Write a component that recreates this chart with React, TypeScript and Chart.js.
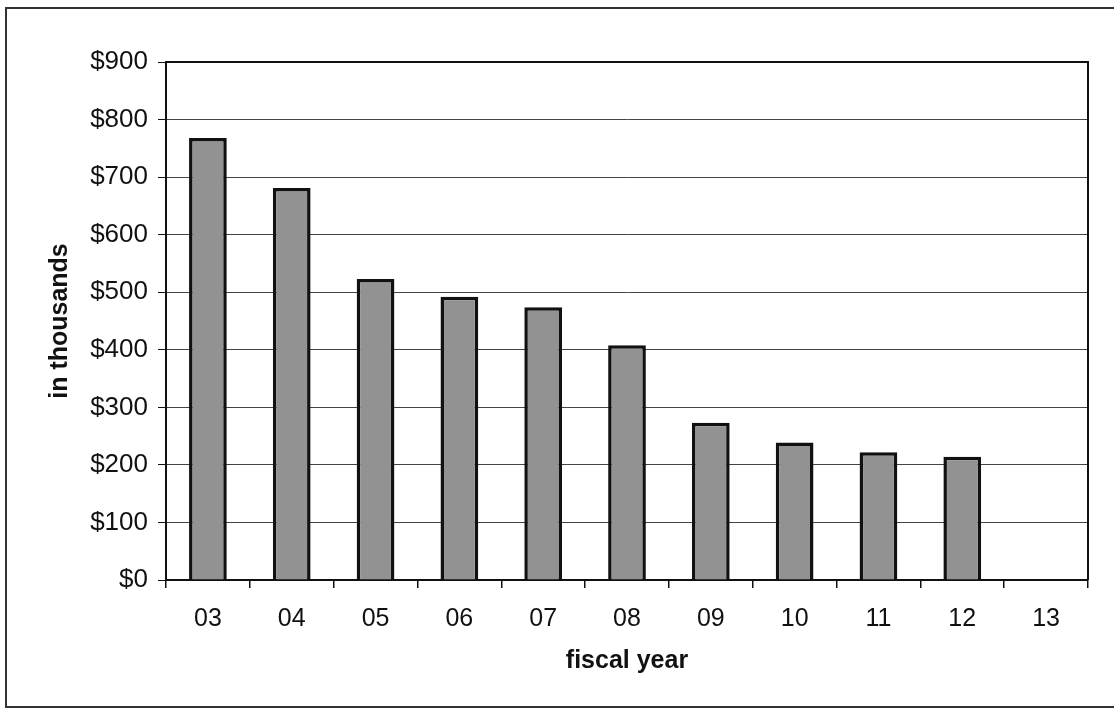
import React, { useEffect, useRef } from "react";
import { Chart, registerables } from "chart.js";

Chart.register(...registerables);

const categories = ["03", "04", "05", "06", "07", "08", "09", "10", "11", "12", "13"];
const values: (number | null)[] = [768, 681, 523, 492, 474, 408, 273, 239, 222, 214, null];
const yTicks = [0, 100, 200, 300, 400, 500, 600, 700, 800, 900];

const plotBorder = {
  id: "plotBorder",
  afterDraw(chart: any) {
    const { ctx, chartArea } = chart;
    ctx.save();
    ctx.strokeStyle = "#111";
    ctx.lineWidth = 2;
    ctx.beginPath();
    ctx.moveTo(chartArea.left, chartArea.top);
    ctx.lineTo(chartArea.right, chartArea.top);
    ctx.lineTo(chartArea.right, chartArea.bottom);
    ctx.stroke();
    ctx.restore();
  },
};

export default function App() {
  const ref = useRef<HTMLCanvasElement>(null);
  useEffect(() => {
    if (!ref.current) return;
    const chart = new Chart(ref.current, {
      type: "bar",
      data: {
        labels: categories,
        datasets: [
          {
            data: values,
            backgroundColor: "#929292",
            borderColor: "#111",
            borderWidth: 3.5,
            barPercentage: 0.45,
            categoryPercentage: 1,
          },
        ],
      },
      plugins: [plotBorder],
      options: {
        animation: false,
        responsive: false,
        devicePixelRatio: 1,
        layout: { padding: { top: 62, right: 26, left: 41, bottom: 37 } },
        plugins: { legend: { display: false }, tooltip: { enabled: false } },
        scales: {
          x: {
            afterFit: (s: any) => {
              s.height = 100;
            },
            grid: {
              display: true,
              drawOnChartArea: false,
              offset: true,
              tickLength: 8,
              color: "#111",
              lineWidth: 1.5,
            },
            border: { color: "#111", width: 2 },
            ticks: {
              color: "#111",
              padding: 16,
              font: { family: "Liberation Sans, Arial, sans-serif", size: 25 },
              maxRotation: 0,
            },
            title: {
              display: true,
              text: "fiscal year",
              color: "#111",
              font: { family: "Liberation Sans, Arial, sans-serif", size: 25, weight: "bold" },
            },
          },
          y: {
            min: 0,
            max: 900,
            afterFit: (s: any) => {
              s.width = 125;
            },
            afterBuildTicks: (s: any) => {
              s.ticks = yTicks.map((v) => ({ value: v }));
            },
            grid: {
              color: "#444",
              lineWidth: 1,
              tickLength: 8,
              tickColor: "#111",
            },
            border: { color: "#111", width: 2 },
            ticks: {
              color: "#111",
              padding: 10,
              font: { family: "Liberation Sans, Arial, sans-serif", size: 26 },
              callback: (v: any) => "$" + v,
            },
            title: {
              display: true,
              text: "in thousands",
              color: "#111",
              font: { family: "Liberation Sans, Arial, sans-serif", size: 25, weight: "bold" },
            },
          },
        },
      },
    } as any);
    return () => chart.destroy();
  }, []);
  return (
    <div
      style={{
        position: "fixed",
        left: 0,
        top: 0,
        width: 1114,
        height: 717,
        overflow: "hidden",
        background: "#fff",
      }}
    >
      <div
        style={{
          position: "absolute",
          left: 5,
          top: 7,
          width: 1140,
          height: 697,
          border: "2px solid #333",
        }}
      />
      <canvas ref={ref} width={1114} height={717} style={{ position: "absolute", left: 0, top: 0 }} />
    </div>
  );
}
